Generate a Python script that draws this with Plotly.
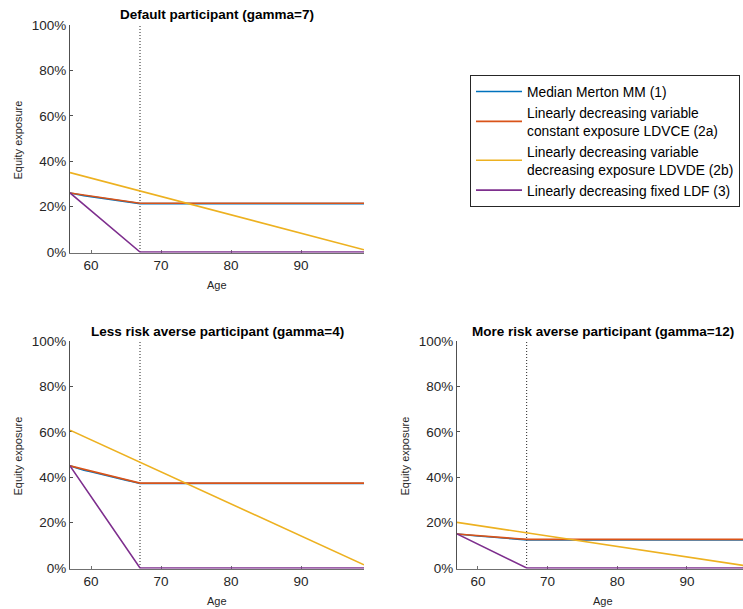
import plotly.graph_objects as go

FONT = "Liberation Sans, Arial, sans-serif"
W, H = 743, 609
# empirical vertical mapping of the rendered page
Y_OFF, H_EFF = 7.0, 595.0
Y_PAD = 0.35  # small extension of the y range below 0 so lines at 0% are not clipped

# ---------------- data ----------------
retirement_age = 67
end_age = 99
start_age = 57

mm_ages = [57, 58, 59, 60, 61, 62, 63, 64, 65, 66, 67, 99]

# gamma = 7 (default)
g7_mm = [26.0, 25.35, 24.85, 24.4, 23.95, 23.5, 23.1, 22.7, 22.3, 21.9, 21.3, 21.3]
g7_ldvce = [26.0, 21.5, 21.5]
g7_ldvde = [35.0, 1.0]
g7_ldf = [26.0, 0.0, 0.0]

# gamma = 4 (less risk averse)
g4_mm = [45.0, 43.9, 43.1, 42.4, 41.6, 40.9, 40.1, 39.4, 38.7, 38.0, 37.2, 37.2]
g4_ldvce = [45.0, 37.4, 37.4]
g4_ldvde = [60.7, 1.4]
g4_ldf = [45.0, 0.0, 0.0]

# gamma = 12 (more risk averse)
g12_mm = [15.0, 14.6, 14.35, 14.1, 13.85, 13.6, 13.4, 13.2, 13.0, 12.8, 12.4, 12.4]
g12_ldvce = [15.0, 12.6, 12.6]
g12_ldvde = [20.1, 0.7]
g12_ldf = [15.0, 0.0, 0.0]

piece_ages = [start_age, retirement_age, end_age]
lin_ages = [start_age, end_age]

series_names = [
    "Median Merton MM (1)",
    "Linearly decreasing variable<br>constant exposure LDVCE (2a)",
    "Linearly decreasing variable<br>decreasing exposure LDVDE (2b)",
    "Linearly decreasing fixed LDF (3)",
]
colors = ["#0072BD", "#D95319", "#EDB120", "#7E2F8E"]

titles = [
    "Default participant (gamma=7)",
    "Less risk averse participant (gamma=4)",
    "More risk averse participant (gamma=12)",
]
panels = [
    (g7_mm, g7_ldvce, g7_ldvde, g7_ldf),
    (g4_mm, g4_ldvce, g4_ldvde, g4_ldf),
    (g12_mm, g12_ldvce, g12_ldvde, g12_ldf),
]

ytick_vals = [0, 20, 40, 60, 80, 100]
ytick_text = ["0%", "20%", "40%", "60%", "80%", "100%"]
xtick_vals = [60, 70, 80, 90]


def py(ypix):
    return 1 - (ypix - Y_OFF) / H_EFF


# (left, right, top, bottom) in pixels, x range max
boxes = [
    (70, 364, 25, 252, 99.0),
    (70, 364, 341, 568, 99.0),
    (457, 743, 341, 568, 98.05),
]

fig = go.Figure()
annotations = []

for i, (data, box) in enumerate(zip(panels, boxes)):
    xa = "x" if i == 0 else f"x{i+1}"
    ya = "y" if i == 0 else f"y{i+1}"
    show = i == 0
    fig.add_trace(go.Scatter(x=[retirement_age, retirement_age], y=[0, 100], mode="lines",
                             line=dict(color="#222222", width=1, dash="1px,2px"),
                             showlegend=False, hoverinfo="skip", xaxis=xa, yaxis=ya))
    xs_list = [mm_ages, piece_ages, lin_ages, piece_ages]
    for k, (xs, ys) in enumerate(zip(xs_list, data)):
        fig.add_trace(go.Scatter(x=xs, y=ys, mode="lines", name=series_names[k],
                                 line=dict(color=colors[k], width=1.6),
                                 showlegend=show, legendrank=k + 1,
                                 xaxis=xa, yaxis=ya))
    l, r, t, b, xmax = box
    b_ext = b + Y_PAD * (b - t) / 100.0
    dx = [l / W, r / W]
    dy = [py(b_ext), py(t)]
    axis_common = dict(showline=True, linewidth=1, ticks="inside",
                       ticklen=3, showgrid=False, zeroline=False, layer="below traces",
                       tickfont=dict(family=FONT, size=13.5, color="#262626"), mirror=False)
    xkey = "xaxis" if i == 0 else f"xaxis{i+1}"
    ykey = "yaxis" if i == 0 else f"yaxis{i+1}"
    fig.update_layout(**{
        xkey: dict(domain=dx, range=[start_age, xmax], tickvals=xtick_vals, anchor=ya,
                   linecolor="#707070", tickcolor="#707070", **axis_common),
        ykey: dict(domain=dy, range=[-Y_PAD, 100], tickvals=ytick_vals, ticktext=ytick_text,
                   anchor=xa, linecolor="#505050", tickcolor="#505050", **axis_common),
    })
    full_r = l + (end_age - start_age) * (r - l) / (xmax - start_age)
    cx = ((l + full_r) / 2) / W
    annotations.append(dict(text="<b>" + titles[i] + "</b>", x=cx, y=py(t - 10),
                            xref="paper", yref="paper", xanchor="center", yanchor="middle",
                            showarrow=False, font=dict(family=FONT, size=13.5, color="black")))
    annotations.append(dict(text="Age", x=cx, y=py(b + 33), xref="paper", yref="paper",
                            xanchor="center", yanchor="middle", showarrow=False,
                            font=dict(family=FONT, size=11, color="#262626")))
    annotations.append(dict(text="Equity exposure", x=(l - 53) / W, y=py((t + b) / 2 + 2),
                            xref="paper", yref="paper", xanchor="center", yanchor="middle",
                            textangle=-90, showarrow=False,
                            font=dict(family=FONT, size=11, color="#262626")))

fig.update_layout(
    width=W, height=H, margin=dict(l=0, r=0, t=0, b=0),
    paper_bgcolor="white", plot_bgcolor="white",
    annotations=annotations,
    showlegend=True,
    legend=dict(x=470 / W, y=py(75), xanchor="left", yanchor="top",
                bgcolor="white", bordercolor="#262626", borderwidth=1,
                font=dict(family=FONT, size=13.8, color="black"),
                itemwidth=46, tracegroupgap=0, traceorder="normal"),
)

fig.write_html("out.html")
